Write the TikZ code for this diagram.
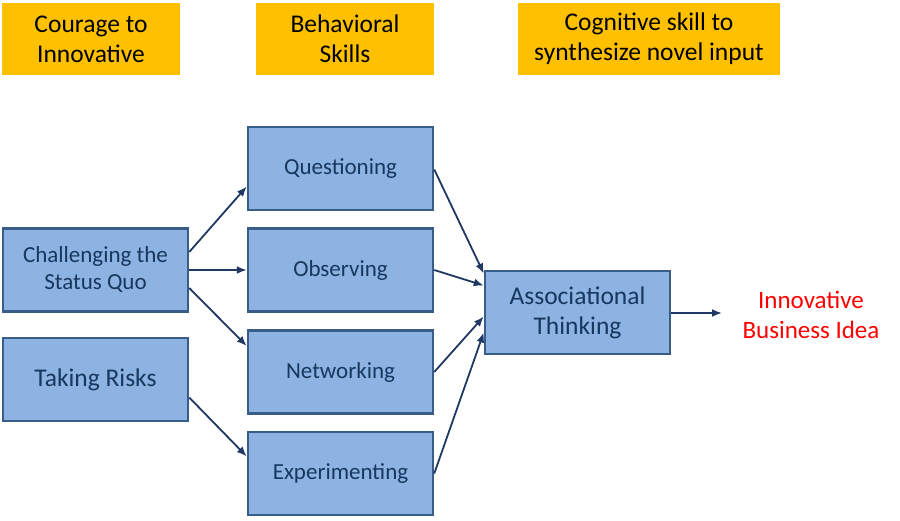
\documentclass[tikz,border=0pt]{standalone}
\usepackage{fontspec}
\setmainfont{Carlito}
\usetikzlibrary{arrows.meta,positioning,calc}
\definecolor{hdrfill}{HTML}{FFC000}
\definecolor{boxfill}{HTML}{8DB3E2}
\definecolor{boxline}{HTML}{385D8A}
\definecolor{boxtext}{HTML}{17375E}
\definecolor{arrink}{HTML}{1F3864}
\definecolor{ideared}{HTML}{FF0000}
\tikzset{
  arr/.style={-{Latex[length=10pt,width=8pt]}, line width=1.8pt, draw=arrink},
  figbase/.style={
    x=1pt, y=-1pt,
    line join=miter,
  },
  hdr/.style={
    fill=hdrfill, draw=none,
    minimum height=72pt,
    inner sep=2pt,
    align=center,
    text=black,
    font=\fontsize{25.5}{30}\selectfont,
  },
  box/.style={
    fill=boxfill, draw=boxline, line width=2.5pt,
    minimum width=185pt, minimum height=83pt,
    inner sep=2pt,
    align=center,
    text=boxtext,
    font=\fontsize{23}{27}\selectfont,
  },
  boxbig/.style={box, font=\fontsize{25.5}{30}\selectfont},
  idealab/.style={text=ideared, align=center, font=\fontsize{25}{30}\selectfont},
}
\begin{document}
\begin{tikzpicture}[figbase]
  \useasboundingbox (0,0) rectangle (900,520);
  \fill[white] (0,0) rectangle (900,520);

  % column heads
  \node[hdr, minimum width=178pt] (hcour) at (91,39) {Courage to\\Innovative};
  \node[hdr, minimum width=178pt] (hbeh) at (345,39) {Behavioral\\Skills};
  \node[hdr, minimum width=262pt] (hcog) at (649,39) {Cognitive skill to\\synthesize novel input};

  % left column
  \node[box] (chal) at (95.5,270) {Challenging the\\Status Quo};
  \node[boxbig] (risk) at (95.5,379.5) {Taking Risks};

  % behavioral skills
  \node[box] (quest) at (340.5,168.5) {Questioning};
  \node[box] (obs) at (340.5,270) {Observing};
  \node[box] (netw) at (340.5,372) {Networking};
  \node[box] (expt) at (340.5,473.5) {Experimenting};

  % synthesis
  \node[boxbig] (assoc) at (577.5,312.5) {Associational\\Thinking};
  \node[idealab] (idea) at (811,315) {Innovative\\Business Idea};
  \coordinate (ideain) at (722,313);

  \draw[arr] ([yshift=18pt]chal.east) -- ([yshift=-18pt]quest.west);
  \draw[arr] (chal.east) -- (obs.west);
  \draw[arr] ([yshift=-18pt]chal.east) -- ([yshift=26pt]netw.west);
  \draw[arr] ([yshift=-18pt]risk.east) -- ([yshift=17pt]expt.west);

  \draw[arr] ([yshift=-1pt]quest.east) -- ([yshift=39pt]assoc.west);
  \draw[arr] (obs.east) -- ([yshift=27pt]assoc.west);
  \draw[arr] (netw.east) -- ([yshift=-4pt]assoc.west);
  \draw[arr] (expt.east) -- ([yshift=-20pt]assoc.west);

  \draw[arr] ([yshift=-0.5pt]assoc.east) -- (ideain);
\end{tikzpicture}
\end{document}
